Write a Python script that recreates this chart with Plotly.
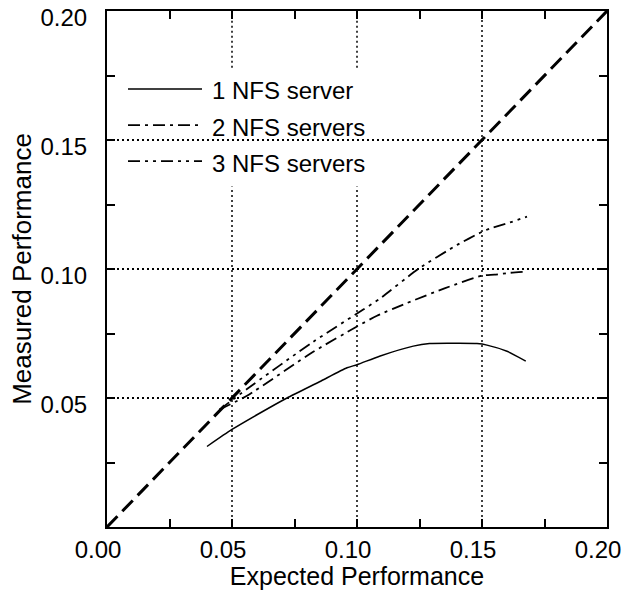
import plotly.graph_objects as go

# ---------------- data ----------------
ideal_x = [0.0, 0.2]
ideal_y = [0.0, 0.2]

expected_1 = [0.040, 0.050, 0.060, 0.072, 0.085, 0.096, 0.100, 0.109, 0.1225, 0.129, 0.140, 0.148, 0.152, 0.160, 0.1675]
measured_1 = [0.0312, 0.0378, 0.0435, 0.0500, 0.0563, 0.0617, 0.0629, 0.0662, 0.0701, 0.0711, 0.0712, 0.0711, 0.0705, 0.0681, 0.0643]

expected_2 = [0.045, 0.056, 0.0825, 0.100, 0.108, 0.120, 0.135, 0.150, 0.155, 0.161, 0.168]
measured_2 = [0.0455, 0.0509, 0.0679, 0.0777, 0.0819, 0.0868, 0.0925, 0.0974, 0.0978, 0.0985, 0.0990]

expected_3 = [0.045, 0.056, 0.0825, 0.1025, 0.109, 0.1245, 0.140, 0.150, 0.1532, 0.162, 0.168]
measured_3 = [0.0455, 0.0535, 0.0718, 0.0843, 0.0884, 0.1000, 0.1093, 0.1144, 0.1157, 0.1183, 0.1203]

series_names = ["1 NFS server", "2 NFS servers", "3 NFS servers"]
x_tick_vals = [0.00, 0.05, 0.10, 0.15, 0.20]
x_tick_text = ["0.00", "0.05", "0.10", "0.15", "0.20"]
y_tick_vals = [0.05, 0.10, 0.15, 0.20]
y_tick_text = ["0.05", "0.10", "0.15", "0.20"]

# ---------------- styles ----------------
FONT = "Liberation Sans, Arial, Helvetica, sans-serif"
dashes = ["solid", "12px,5px,3px,5px", "12px,5px,3px,5px,3px,5px"]
widths = [1.5, 1.8, 1.8]

fig = go.Figure()

fig.add_trace(go.Scatter(x=ideal_x, y=ideal_y, mode="lines", name="Ideal",
                         line=dict(color="black", width=3, dash="15px,7px"),
                         showlegend=False))

for xs, ys, nm, ds, w in zip([expected_1, expected_2, expected_3],
                             [measured_1, measured_2, measured_3],
                             series_names, dashes, widths):
    fig.add_trace(go.Scatter(x=xs, y=ys, mode="lines", name=nm,
                             line=dict(color="black", width=w, dash=ds, shape="spline", smoothing=0.6),
                             showlegend=False))

shapes = []
# vertical dotted grid lines, interrupted behind the legend box
gap_lo, gap_hi = 0.132, 0.178
for gx in x_tick_vals[1:-1]:
    if gx < 0.12:
        segs = [(0.0, gap_lo), (gap_hi, 0.2)]
    else:
        segs = [(0.0, 0.2)]
    for y0, y1 in segs:
        shapes.append(dict(type="line", xref="x", yref="y", x0=gx, x1=gx, y0=y0, y1=y1,
                           line=dict(color="black", width=1.5, dash="2px,3px"), layer="below"))

# legend samples (paper coordinates)
legend_rows_y = [0.845, 0.775, 0.705]
annotations = []
for ry, nm, ds, w in zip(legend_rows_y, series_names, dashes, widths):
    shapes.append(dict(type="line", xref="paper", yref="paper", x0=0.042, x1=0.19, y0=ry + 0.004, y1=ry + 0.004,
                       line=dict(color="black", width=w, dash=ds)))
    annotations.append(dict(xref="paper", yref="paper", x=0.206, y=ry, xanchor="left", yanchor="middle",
                            text=nm, showarrow=False, font=dict(family=FONT, size=24, color="black")))

axis_common = dict(
    showline=True, linecolor="black", linewidth=2, mirror="allticks",
    ticks="inside", ticklen=3, tickwidth=1.5, tickcolor="black",
    minor=dict(ticks="inside", ticklen=8, tickwidth=1.5, tickcolor="black", dtick=0.025, tick0=0, showgrid=False),
    zeroline=False, ticklabeloverflow="allow", automargin=False,
    tickfont=dict(family=FONT, size=24, color="black"),
)

fig.update_layout(
    width=626, height=590,
    margin=dict(l=107, r=19, t=11, b=63, autoexpand=False),
    paper_bgcolor="white", plot_bgcolor="white",
    font=dict(family=FONT, size=24, color="black"),
    xaxis=dict(**axis_common, range=[0, 0.2], tickvals=x_tick_vals, ticktext=x_tick_text,
               showgrid=False, ticklabelshift=-9, ticklabelstandoff=0,
               title=dict(text="Expected Performance", font=dict(family=FONT, size=25, color="black"), standoff=4)),
    yaxis=dict(**axis_common, range=[0, 0.2], tickvals=y_tick_vals, ticktext=y_tick_text,
               showgrid=True, gridcolor="black", gridwidth=1.5, griddash="2px,3px",
               ticklabelshift=7, ticklabelstandoff=13,
               title=dict(text="Measured Performance", font=dict(family=FONT, size=26, color="black"), standoff=1)),
    shapes=shapes,
    annotations=annotations,
    showlegend=False,
)

fig.write_html("out.html",
               config={"displayModeBar": False},
               post_script="document.body.style.margin='0px';document.body.style.overflow='hidden';")
